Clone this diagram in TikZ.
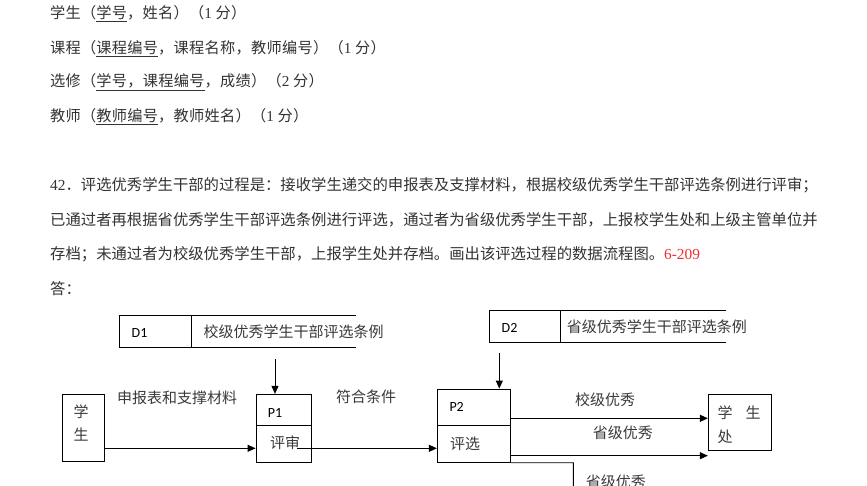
\documentclass[tikz,border=0pt]{standalone}
\usepackage{fontspec}
\setmainfont{Liberation Serif}
\newfontfamily\cjk{Noto Sans CJK SC}
\newfontfamily\cjksp[LetterSpace=2]{Noto Sans CJK SC}
\newfontfamily\calfnt{Carlito}
\newcommand\lat{\fontspec{Liberation Serif}}
\usetikzlibrary{arrows.meta}
\definecolor{txtgray}{HTML}{333333}
\definecolor{dgray}{HTML}{3A3A3A}
\definecolor{redtxt}{HTML}{F03030}
\begin{document}
\begin{tikzpicture}[x=1pt,y=-1pt,
  toptxt/.style={anchor=west,inner sep=0,text=txtgray,font=\cjksp\fontsize{15.2}{15.2}\selectfont},
  partxt/.style={anchor=west,inner sep=0,text=txtgray,font=\cjk\fontsize{15.35}{15.35}\selectfont},
  lbl/.style={anchor=west,inner sep=0,text=dgray,font=\cjk\fontsize{15}{15}\selectfont},
  idtxt/.style={anchor=west,inner sep=0,text=black,font=\calfnt\fontsize{14}{14}\selectfont},
  boxst/.style={draw,inner sep=0,line width=0.9pt},
  ln/.style={line width=0.9pt},
  arr/.style={line width=0.9pt,-{Triangle[length=8pt,width=7pt]}}]
\useasboundingbox[fill=white] (0,0) rectangle (867,485);
% top text
\node[toptxt] (t1) at (50,14) {学生（\underline{学号}，姓名）（{\lat 1} 分）};
\node[toptxt] (t2) at (50,49) {课程（\underline{课程编号}，课程名称，教师编号）（{\lat 1} 分）};
\node[toptxt] (t3) at (50,82) {选修（\underline{学号，课程编号}，成绩）（{\lat 2} 分）};
\node[toptxt] (t4) at (50,117) {教师（\underline{教师编号}，教师姓名）（{\lat 1} 分）};
\node[partxt] (p1) at (50,185) {{\lat 42}．评选优秀学生干部的过程是：接收学生递交的申报表及支撑材料，根据校级优秀学生干部评选条例进行评审；};
\node[partxt] (p2) at (50,220) {已通过者再根据省优秀学生干部评选条例进行评选，通过者为省级优秀学生干部，上报校学生处和上级主管单位并};
\node[partxt] (p3) at (50,254) {存档；未通过者为校级优秀学生干部，上报学生处并存档。画出该评选过程的数据流程图。\textcolor{redtxt}{\lat 6-209}};
\node[partxt] (p4) at (50,289) {答：};
% data stores
\draw[ln] (356,315.7) -- (119.3,315.7) -- (119.3,347.3) -- (356,347.3);
\draw[ln] (191,315.7) -- (191,347.3);
\node[idtxt] (d1) at (131.5,332.5) {D1};
\node[lbl] (d1t) at (203.3,332) {校级优秀学生干部评选条例};
\draw[ln] (726,310) -- (489.3,310) -- (489.3,342.7) -- (726,342.7);
\draw[ln] (560.7,310) -- (560.7,342.7);
\node[idtxt] (d2) at (501.5,327.5) {D2};
\node[lbl] (d2t) at (566.7,327) {省级优秀学生干部评选条例};
% boxes
\node[boxst,minimum width=41.3pt,minimum height=67.7pt] (stu) at (83.35,427.85) {};
\node[lbl] (stu1) at (73.5,411.5) {学};
\node[lbl] (stu2) at (73.5,435) {生};
\node[boxst,minimum width=55.7pt,minimum height=68pt] (P1) at (283.85,428.3) {};
\draw[ln] (P1.west |- 0,425.7) -- (P1.east |- 0,425.7);
\node[idtxt] (P1id) at (267.7,413.3) {P1};
\node[lbl] (P1t) at (270,443) {评审};
\node[boxst,minimum width=73.4pt,minimum height=73.3pt] (P2) at (474,425.65) {};
\draw[ln] (P2.west |- 0,425.7) -- (P2.east |- 0,425.7);
\node[idtxt] (P2id) at (449.3,407.3) {P2};
\node[lbl] (P2t) at (450,444) {评选};
\node[boxst,minimum width=63.4pt,minimum height=56.4pt] (xsc) at (740,422.5) {};
\node[lbl] (xsc1) at (717.5,412.5) {学\hspace{13pt}生};
\node[lbl] (xsc2) at (717.5,436.5) {处};
% arrows
\coordinate (d1o) at (275,359);
\coordinate (d2o) at (499.3,353.3);
\coordinate (p1o) at (296.7,448.3);
\draw[arr] (d1o) -- (d1o |- P1.north);
\draw[arr] (d2o) -- (d2o |- P2.north);
\draw[arr] (stu.east |- 0,448.3) -- (P1.west |- 0,448.3);
\draw[arr] (p1o) -- (P2.west |- p1o);
\draw[arr] (P2.east |- 0,418.3) -- (xsc.west |- 0,418.3);
\draw[arr] (P2.east |- 0,455.7) -- (xsc.west |- 0,455.7);
\coordinate (bend) at (573.3,462.7);
\draw[ln] (P2.south east) -- (bend) -- (bend |- 0,490);
% labels
\node[lbl] (l1) at (117,397.7) {申报表和支撑材料};
\node[lbl] (l2) at (336,397) {符合条件};
\node[lbl] (l3) at (575,400) {校级优秀};
\node[lbl] (l4) at (592.7,432.7) {省级优秀};
\node[lbl] (l5) at (585.7,481.5) {省级优秀};
\end{tikzpicture}
\end{document}
